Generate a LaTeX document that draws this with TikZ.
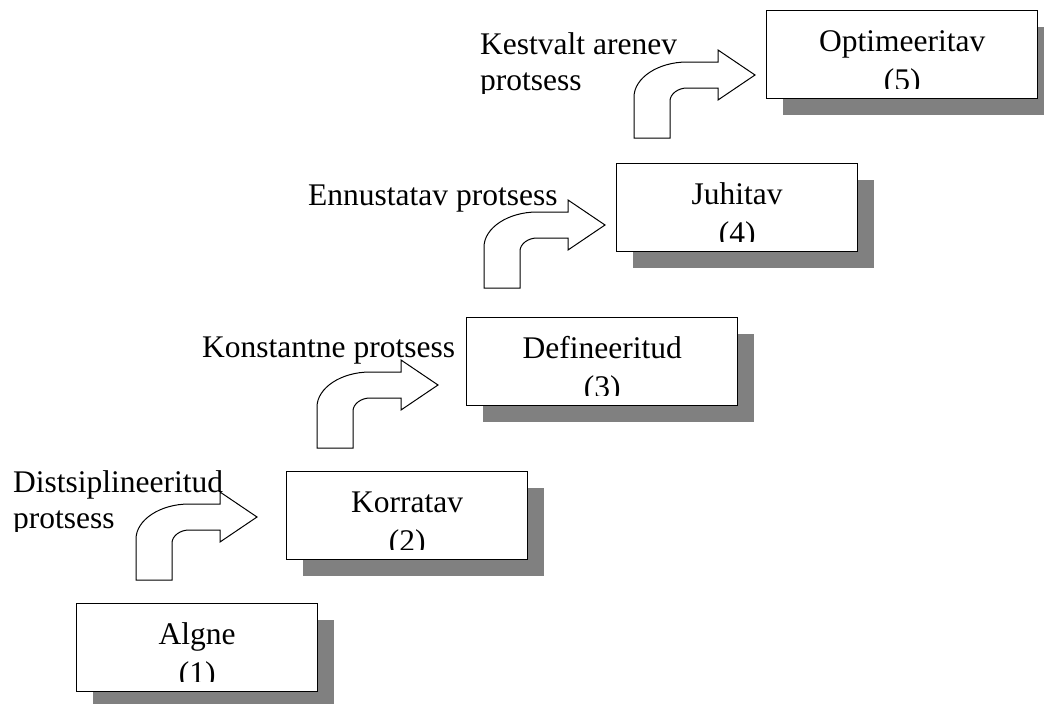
\documentclass[tikz,border=0pt]{standalone}
\usepackage{fontspec}
\setmainfont{Liberation Serif}
\usetikzlibrary{shadows}
\definecolor{shadowgray}{RGB}{128,128,128}
\begin{document}
\begin{tikzpicture}[x=1pt,y=-1pt,
  stage/.style={draw=black, line width=1.3pt, fill=white, minimum width=#1,
    minimum height=88pt, inner sep=0pt, anchor=north west,
    drop shadow={shadow xshift=16pt, shadow yshift=-16pt, fill=shadowgray, opacity=1}},
  boxtxt/.style={font=\fontsize{31.5}{36}\selectfont, inner sep=0pt, anchor=base},
  lbl/.style={font=\fontsize{31.5}{36}\selectfont, inner sep=0pt, anchor=base west},
  bentarr/.pic={\draw[line width=1pt, fill=white, line join=miter]
    (0,0) -- (0,-41) .. controls (0,-60) and (24,-76) .. (53,-76) -- (84,-76)
    -- (84,-88) -- (121,-63) -- (84,-38) -- (84,-50) -- (53,-50)
    .. controls (44,-50) and (36,-44) .. (36,-37) -- (36,0) -- cycle;}
]
\useasboundingbox (0,0) rectangle (1044,704);

% boxes
\node[stage=241pt] (b1) at (76,603) {};
\node[stage=241pt] (b2) at (286,471) {};
\node[stage=271pt] (b3) at (466,317) {};
\node[stage=241pt] (b4) at (616,163) {};
\node[stage=271pt] (b5) at (766,10) {};

% box texts (clipped like the original text boxes)
\foreach \b/\ta/\tb in {b1/Algne/(1), b2/Korratav/(2), b3/Defineeritud/(3), b4/Juhitav/(4), b5/Optimeeritav/(5)}{
  \begin{scope}
    \clip (\b.north west) rectangle ([yshift=11pt]\b.south east);
    \node[boxtxt] (\b-a) at ([yshift=48pt]\b.south) {\ta};
    \node[boxtxt] (\b-b) at ([yshift=9pt]\b.south) {\tb};
  \end{scope}
}

% bent arrows
\pic (a1) at (136,580) {bentarr};
\pic (a2) at (317,448) {bentarr};
\pic (a3) at (484,288) {bentarr};
\pic (a4) at (634,138) {bentarr};

% labels
\begin{scope}
  \clip (0,440) rectangle (300,531);
  \node[lbl] (l1a) at (13,492) {Distsiplineeritud};
  \node[lbl] (l1b) at (13,528) {protsess};
\end{scope}
\node[lbl] (l2) at (202,357) {Konstantne protsess};
\node[lbl] (l3) at (308,205) {Ennustatav protsess};
\begin{scope}
  \clip (400,0) rectangle (760,93);
  \node[lbl] (l4a) at (480,54) {Kestvalt arenev};
  \node[lbl] (l4b) at (480,90) {protsess};
\end{scope}
\end{tikzpicture}
\end{document}
